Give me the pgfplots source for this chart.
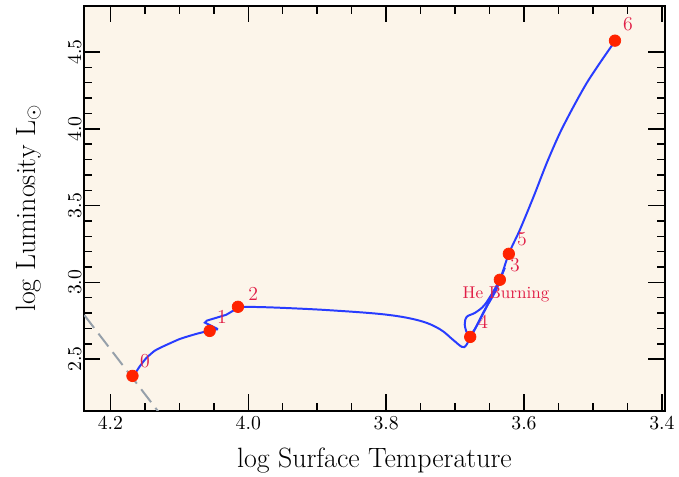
\documentclass[border=0pt]{standalone}
\usepackage{pgfplots}
\pgfplotsset{compat=1.18}
\definecolor{bgc}{RGB}{252,245,234}
\definecolor{trk}{RGB}{40,60,255}
\definecolor{lab}{RGB}{225,30,70}
\definecolor{mk}{RGB}{255,35,0}
\definecolor{dsh}{RGB}{150,160,170}
\begin{document}
\begin{tikzpicture}
\useasboundingbox (-46.8pt,-36.8pt) rectangle (330.4pt,228.1pt);
\begin{axis}[
  scale only axis,
  width=322.4pt, height=224.8pt,
  x dir=reverse,
  xmin=3.396, xmax=4.238,
  ymin=2.165, ymax=4.80,
  axis background/.style={fill=bgc},
  axis line style={line width=1pt},
  every tick/.style={black, line width=0.8pt},
  tick align=inside,
  major tick length=9pt,
  minor tick length=4.5pt,
  xtick={3.4,3.6,3.8,4.0,4.2},
  ytick={2.5,3.0,3.5,4.0,4.5},
  minor x tick num=3,
  minor y tick num=4,
  /pgf/number format/fixed,
  /pgf/number format/fixed zerofill,
  /pgf/number format/precision=1,
  ticklabel style={font=\fontsize{11}{13}\selectfont},
  yticklabel style={rotate=90, anchor=south, inner sep=1.5pt},
  xlabel={log Surface Temperature},
  ylabel={log Luminosity L$_\odot$},
  label style={font=\fontsize{15.5}{18}\selectfont},
  xlabel style={at={(axis description cs:0.5,0)}, anchor=center, yshift=-28pt},
  ylabel style={at={(axis description cs:0,0.5)}, anchor=center, yshift=31pt},
  clip=true,
]
\addplot[dsh, line width=1.1pt, dash pattern=on 9pt off 4pt] coordinates {(4.30,3.15) (4.10,1.98)};
\addplot[trk, line width=1.1pt, smooth, tension=0.3] coordinates {
(4.167,2.387) (4.157,2.456) (4.148,2.507) (4.136,2.554) (4.124,2.582) (4.099,2.632) (4.075,2.665) (4.056,2.686) (4.044,2.695)
};
\addplot[trk, line width=1.1pt] coordinates {
(4.044,2.695) (4.063,2.738) (4.060,2.751) (4.032,2.789) (4.013,2.839)
};
\addplot[trk, line width=1.1pt, smooth, tension=0.6] coordinates {
(4.013,2.839) (3.993,2.840) (3.950,2.834) (3.880,2.818) (3.800,2.790) (3.751,2.750) (3.722,2.695) (3.703,2.626) (3.690,2.580) (3.684,2.590) (3.677,2.647) (3.664,2.756) (3.649,2.886) (3.635,3.017) (3.628,3.095)
};
\addplot[trk, line width=1.1pt, smooth, tension=0.5] coordinates {
(3.628,3.095) (3.639,2.984) (3.657,2.854) (3.671,2.802) (3.683,2.776) (3.686,2.724) (3.681,2.658) (3.672,2.691) (3.657,2.821) (3.639,2.965) (3.622,3.186) (3.606,3.342) (3.586,3.559) (3.567,3.777) (3.548,3.972) (3.528,4.146) (3.509,4.298) (3.490,4.428) (3.468,4.571)
};
\addplot[only marks, mark=*, mark size=3.2pt, mark options={fill=mk, draw=mk}] coordinates {
(4.168,2.391) (4.056,2.684) (4.015,2.841) (3.635,3.017) (3.678,2.645) (3.622,3.186) (3.468,4.574)
};
\begin{scope}[every node/.style={text=lab, font=\fontsize{11}{13}\selectfont}]
\node at (axis cs:4.150,2.489) {0};
\node at (axis cs:4.038,2.776) {1};
\node at (axis cs:3.993,2.925) {2};
\node at (axis cs:3.613,3.114) {3};
\node at (axis cs:3.659,2.743) {4};
\node at (axis cs:3.603,3.284) {5};
\node at (axis cs:3.449,4.684) {6};
\node[font=\fontsize{9.5}{11}\selectfont] at (axis cs:3.626,2.919) {He Burning};
\end{scope}
\end{axis}
\end{tikzpicture}
\end{document}
